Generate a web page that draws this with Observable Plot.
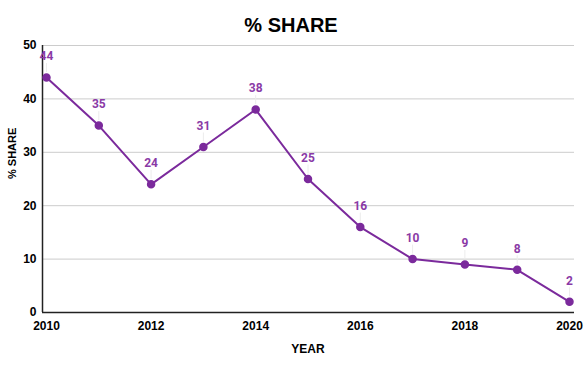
<!DOCTYPE html>
<html><head><meta charset="utf-8">
<script src="https://cdn.jsdelivr.net/npm/d3@7"></script>
<script src="https://cdn.jsdelivr.net/npm/@observablehq/plot@0.6"></script>
<style>body{margin:0;background:#fff}</style>
</head><body><div id="chart"></div>
<script>
const years = [2010,2011,2012,2013,2014,2015,2016,2017,2018,2019,2020];
const share = [44,35,24,31,38,25,16,10,9,8,2];
const yTicks = [0,10,20,30,40,50];
const xTicks = [2010,2012,2014,2016,2018,2020];
const title = "% SHARE";
const yLabel = "% SHARE";
const xLabel = "YEAR";
const data = years.map((y,i)=>({year:y, v:share[i]}));
const purple = "#7b2a9c";
const chart = Plot.plot({
  width:585, height:371,
  marginLeft:46, marginRight:16, marginTop:45, marginBottom:59,
  style:{fontFamily:"'Liberation Sans', Arial, sans-serif", fontSize:"12px", fontWeight:"bold", color:"#000", background:"#fff"},
  x:{domain:[2010,2020], ticks:xTicks, tickFormat:d=>String(d), tickSize:0, tickPadding:6, label:null},
  y:{domain:[0,50], ticks:yTicks, tickSize:0, tickPadding:8, label:null},
  marks:[
    Plot.ruleY(yTicks.filter(d=>d>0), {stroke:"#cccccc", strokeWidth:1, insetLeft:-4, insetRight:-5}),
    Plot.ruleX([2010], {stroke:"#222", strokeWidth:1.5, dx:-4}),
    Plot.ruleY([0], {stroke:"#222", strokeWidth:1.5, insetLeft:-4, insetRight:-5}),
    Plot.axisX({ticks:xTicks, tickFormat:d=>String(d), tickSize:0, tickPadding:9, fontSize:12, fontWeight:"bold"}),
    Plot.axisY({ticks:yTicks, tickSize:0, tickPadding:10, fontSize:12, fontWeight:"bold", label:null}),
    Plot.ruleX(data, {x:"year", y1:"v", y2:"v", insetTop:-14, insetBottom:5, stroke:"#ececec", strokeWidth:1}),
    Plot.line(data, {x:"year", y:"v", stroke:purple, strokeWidth:2}),
    Plot.dot(data, {x:"year", y:"v", r:3.5, fill:purple, stroke:purple}),
    Plot.text(data, {x:"year", y:"v", text:d=>String(d.v), dy:-21, fill:"#8a3aa6", fontFamily:"Roboto, sans-serif", fontSize:12, fontWeight:"bold"}),
    Plot.text([title], {frameAnchor:"top", dy:-28, dx:-17, fontSize:20, fontWeight:"bold", fill:"#000"}),
    Plot.text([xLabel], {frameAnchor:"bottom", dy:40, dx:0, fontSize:12, fontWeight:"bold", fill:"#000"}),
    Plot.text([yLabel], {frameAnchor:"left", dx:-34, rotate:-90, fontSize:11, fontWeight:"bold", fill:"#000"})
  ]
});
document.getElementById("chart").appendChild(chart);
</script>
</body></html>
